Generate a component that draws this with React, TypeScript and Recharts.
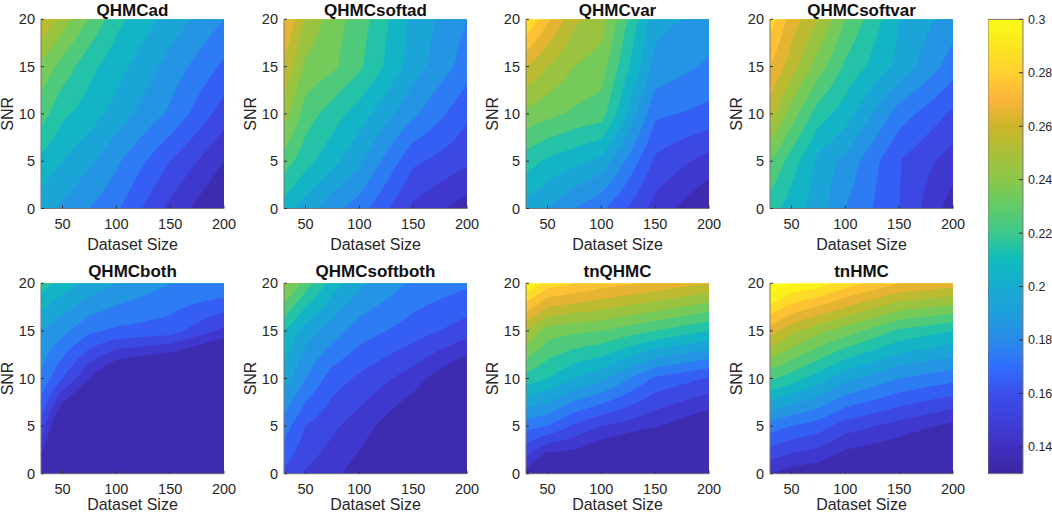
import React from 'react';
import { AreaChart, Area, BarChart, Bar, XAxis, YAxis } from 'recharts';

// grid the contours are traced from
const sizes = [30, 50, 75, 100, 150, 200];
const snrs = [0, 5, 10, 15, 20];

// z rows run from SNR 0 up to SNR 20
const zQHMCad = [
    [.195, .188, .180, .172, .147, .128],
    [.207, .200, .192, .182, .160, .140],
    [.225, .212, .205, .196, .178, .155],
    [.237, .226, .213, .204, .186, .168],
    [.260, .245, .229, .213, .196, .180],
];
const zQHMCsoftad = [
    [.205, .195, .183, .175, .148, .135],
    [.225, .214, .203, .192, .162, .152],
    [.245, .225, .215, .205, .182, .162],
    [.258, .238, .232, .222, .195, .175],
    [.272, .248, .235, .225, .197, .180],
];
const zQHMCvar = [
    [.195, .190, .180, .172, .146, .130],
    [.215, .208, .203, .197, .158, .146],
    [.237, .233, .228, .225, .172, .167],
    [.260, .250, .240, .235, .187, .178],
    [.290, .272, .252, .245, .193, .187],
];
const zQHMCsoftvar = [
    [.215, .205, .195, .180, .160, .135],
    [.230, .215, .197, .187, .160, .145],
    [.255, .235, .215, .205, .175, .158],
    [.270, .255, .235, .218, .197, .175],
    [.285, .265, .250, .230, .200, .185],
];
const zQHMCboth = [
    [.128, .110, .100, .100, .100, .100],
    [.157, .120, .105, .105, .100, .100],
    [.178, .160, .140, .122, .110, .097],
    [.190, .183, .172, .168, .165, .147],
    [.215, .205, .197, .190, .180, .180],
];
const zQHMCsoftboth = [
    [.158, .149, .143, .135, .120, .100],
    [.175, .160, .152, .145, .128, .110],
    [.195, .180, .165, .158, .145, .125],
    [.210, .195, .185, .175, .165, .155],
    [.245, .225, .205, .192, .178, .172],
];
const ztnQHMC = [
    [.137, .115, .122, .115, .100, .090],
    [.174, .170, .158, .150, .141, .130],
    [.216, .210, .200, .193, .168, .159],
    [.250, .235, .232, .230, .220, .210],
    [.300, .285, .280, .275, .268, .260],
];
const ztnHMC = [
    [.140, .135, .132, .125, .120, .110],
    [.175, .170, .165, .155, .146, .137],
    [.222, .215, .205, .193, .180, .173],
    [.265, .253, .243, .235, .218, .210],
    [.310, .300, .295, .285, .270, .265],
];

const panelTitles = ['QHMCad', 'QHMCsoftad', 'QHMCvar', 'QHMCsoftvar', 'QHMCboth', 'QHMCsoftboth', 'tnQHMC', 'tnHMC'];
const panelGrids = [zQHMCad, zQHMCsoftad, zQHMCvar, zQHMCsoftvar, zQHMCboth, zQHMCsoftboth, ztnQHMC, ztnHMC];

const sizeTicks = [50, 100, 150, 200];
const snrTicks = [0, 5, 10, 15, 20];
const barTicks = [0.14, 0.16, 0.18, 0.2, 0.22, 0.24, 0.26, 0.28, 0.3];
const barRange = [0.13, 0.3];

// upper edge of each contour band and the colour under it
const levels = [.14, .15, .16, .17, .18, .19, .20, .21, .22, .23, .24, .25, .26, .27, .28, .29, .30, .31];
const bandColors = [
    '#3D2BB0', '#3F38CE', '#3C48E2', '#355EF4', '#2D7CF4', '#2495E2', '#1BA5D6', '#13B4C6', '#24C2A6',
    '#4ECA7A', '#76CA5A', '#9AC440', '#BCBA30', '#E4B432', '#FCC234', '#FDDB28', '#FAF01A', '#F9FB15',
];
const gradientStops: [number, string][] = [
    [.13, '#3A27A0'], [.14, '#4030C0'], [.15, '#3E40DA'], [.16, '#3A4FEA'], [.17, '#306EFF'], [.18, '#2A8AE8'],
    [.19, '#1E9FDC'], [.20, '#18ABCF'], [.21, '#0EBDBE'], [.22, '#3CC88C'], [.23, '#62CB68'], [.24, '#8BC84A'],
    [.25, '#AABF38'], [.26, '#CDB52A'], [.27, '#FAB43A'], [.28, '#FFD030'], [.29, '#FCE620'], [.30, '#F9FB15'],
];

const FONT = '"Liberation Sans", Arial, sans-serif';
const TEXT = '#262626';
const EDGE = '#777777';

function columnAt(grid: number[][], size: number) {
    let i = 0;
    while (i < sizes.length - 2 && size > sizes[i + 1]) i++;
    const t = (size - sizes[i]) / (sizes[i + 1] - sizes[i]);
    return grid.map((row) => row[i] + t * (row[i + 1] - row[i]));
}

// highest SNR where the column crosses the level
function crossing(col: number[], level: number) {
    if (col[col.length - 1] < level) return 20;
    for (let i = col.length - 1; i > 0; i--) {
        if (col[i - 1] < level && col[i] >= level) {
            return snrs[i - 1] + ((level - col[i - 1]) / (col[i] - col[i - 1])) * (snrs[i] - snrs[i - 1]);
        }
    }
    return 0;
}

function contourRows(grid: number[][]) {
    const rows = [];
    for (let size = 30; size <= 200; size += 2.5) {
        const col = columnAt(grid, size);
        const row: Record<string, number> = { size };
        levels.forEach((l, i) => { row[`l${i}`] = crossing(col, l); });
        rows.push(row);
    }
    return rows;
}

const PLOT_W = 183;
const tickStyle = { fill: TEXT, fontSize: 14.5, fontFamily: FONT };

type PanelProps = { title: string; grid: number[][]; left: number; top: number; plotTop: number; plotH: number; titleGap: number; labelOffset: number };

function Panel({ title, grid, left, top, plotTop, plotH, titleGap, labelOffset }: PanelProps) {
    const rows = contourRows(grid);
    const marginTop = plotTop - top;
    return (
        <div style={{ position: 'absolute', left, top }}>
            <AreaChart width={41 + PLOT_W + 20} height={marginTop + plotH + 46} data={rows} margin={{ top: marginTop, right: 20, bottom: 0, left: 0 }}>
                <XAxis
                    dataKey="size"
                    type="number"
                    domain={[30, 200]}
                    ticks={sizeTicks}
                    height={46}
                    tickSize={-3}
                    tickMargin={13}
                    tick={tickStyle}
                    axisLine={{ stroke: EDGE }}
                    tickLine={{ stroke: '#333' }}
                    label={{ value: 'Dataset Size', position: 'insideBottom', offset: labelOffset, fill: TEXT, fontSize: 16, fontFamily: FONT }}
                />
                <XAxis xAxisId="top" orientation="top" type="number" domain={[30, 200]} ticks={sizeTicks} height={0} tick={false} tickSize={-3} axisLine={{ stroke: EDGE }} tickLine={{ stroke: '#333' }} />
                <YAxis
                    type="number"
                    domain={[0, 20]}
                    allowDataOverflow
                    ticks={snrTicks}
                    width={41}
                    tickSize={-3}
                    tickMargin={9}
                    tick={tickStyle}
                    axisLine={{ stroke: EDGE }}
                    tickLine={{ stroke: '#333' }}
                    label={{ value: 'SNR', angle: -90, position: 'insideLeft', offset: 7, fill: TEXT, fontSize: 16, fontFamily: FONT, style: { textAnchor: 'middle' } }}
                />
                <YAxis yAxisId="right" orientation="right" type="number" domain={[0, 20]} ticks={snrTicks} width={0} tick={false} tickSize={-3} axisLine={{ stroke: EDGE }} tickLine={{ stroke: '#333' }} />
                {levels.map((_, i) => levels.length - 1 - i).map((i) => (
                    <Area key={i} dataKey={`l${i}`} type="linear" baseValue={0} fill={bandColors[i]} fillOpacity={1} stroke="none" dot={false} activeDot={false} isAnimationActive={false} />
                ))}
                <text x={41 + PLOT_W / 2} y={marginTop - titleGap} textAnchor="middle" fontSize={17} fontWeight="bold" fontFamily={FONT} fill="#111">{title}</text>
            </AreaChart>
        </div>
    );
}

function ColorBar() {
    const data = [{ name: 'bar', range: barRange }];
    return (
        <div style={{ position: 'absolute', left: 988.3, top: 0 }}>
            <BarChart width={63.7} height={490} data={data} barCategoryGap={0} margin={{ top: 19.3, right: 0, bottom: 16.3, left: 0 }}>
                <defs>
                    <linearGradient id="cbar" x1="0" y1="1" x2="0" y2="0">
                        {gradientStops.map(([v, c]) => (
                            <stop key={v} offset={(v - barRange[0]) / (barRange[1] - barRange[0])} stopColor={c} />
                        ))}
                    </linearGradient>
                </defs>
                <XAxis dataKey="name" hide />
                <YAxis
                    orientation="right"
                    type="number"
                    domain={barRange}
                    ticks={barTicks}
                    width={28.7}
                    tickSize={-4}
                    tickMargin={9}
                    tick={{ fill: TEXT, fontSize: 12.5, fontFamily: FONT, textAnchor: 'start' }}
                    tickFormatter={(v: number) => String(v)}
                    axisLine={false}
                    tickLine={{ stroke: '#333' }}
                />
                <Bar dataKey="range" fill="url(#cbar)" stroke={EDGE} strokeWidth={1} isAnimationActive={false} />
            </BarChart>
        </div>
    );
}

const lefts = [0, 242.7, 485.3, 729];
const rowsTop = [
    { top: 0, plotTop: 19.3, plotH: 189.2, titleGap: 3.8, labelOffset: 4.5 },
    { top: 264, plotTop: 283.3, plotH: 190.4, titleGap: 6.5, labelOffset: 9.5 },
];

export default function App() {
    return (
        <div style={{ position: 'absolute', left: 0, top: 0, width: 1052, height: 514, background: '#fff', overflow: 'hidden' }}>
            {panelTitles.map((title, i) => {
                const r = rowsTop[Math.floor(i / 4)];
                return <Panel key={title} title={title} grid={panelGrids[i]} left={lefts[i % 4]} top={r.top} plotTop={r.plotTop} plotH={r.plotH} titleGap={r.titleGap} labelOffset={r.labelOffset} />;
            })}
            <ColorBar />
        </div>
    );
}
